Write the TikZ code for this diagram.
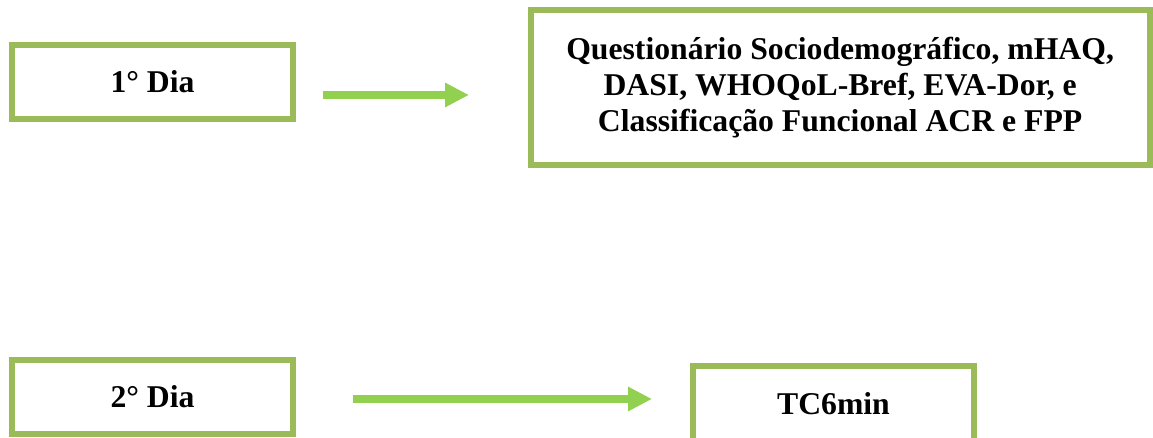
\documentclass[tikz,border=0pt]{standalone}
\usepackage{fontspec}
\usepackage{xcolor}
\usepackage{tikz}
\usetikzlibrary{arrows.meta}
\setmainfont{Liberation Serif}
\definecolor{boxColor}{HTML}{9BBB59}
\definecolor{arrowColor}{HTML}{92D050}

\begin{document}
\begin{tikzpicture}[x=1pt, y=-1pt,
		dayBox/.style={draw=boxColor, line width=6pt, minimum width=281pt, minimum height=74pt, inner sep=0pt, font=\fontsize{31.7}{36}\selectfont\bfseries},
		flowArrow/.style={draw=arrowColor, line width=8.5pt, -{Triangle[length=24pt, width=23pt]}}]
				\useasboundingbox (0,0) rectangle (1153,438);
				\node[dayBox] (dia1) at (152.5,81.7) {1° Dia};
				\node[dayBox, minimum width=619.2pt, minimum height=155pt, align=center] (quest) at (840.1,87.2) {Questionário Sociodemográfico, mHAQ,\\DASI, WHOQoL-Bref, EVA-Dor, e\\Classificação Funcional ACR e FPP};
				\node[dayBox] (dia2) at (152.5,397) {2° Dia};
				\node[dayBox, minimum height=76pt] (tc6) at (833.5,404) {TC6min};
				\coordinate (arrow1Start) at (322.7,95);
				\coordinate (arrow1End) at (469,95);
				\coordinate (arrow2Start) at (353,399);
				\coordinate (arrow2End) at (652,399);
				\draw[flowArrow] (arrow1Start) -- (arrow1End);
				\draw[flowArrow] (arrow2Start) -- (arrow2End);
			\end{tikzpicture}
\end{document}
